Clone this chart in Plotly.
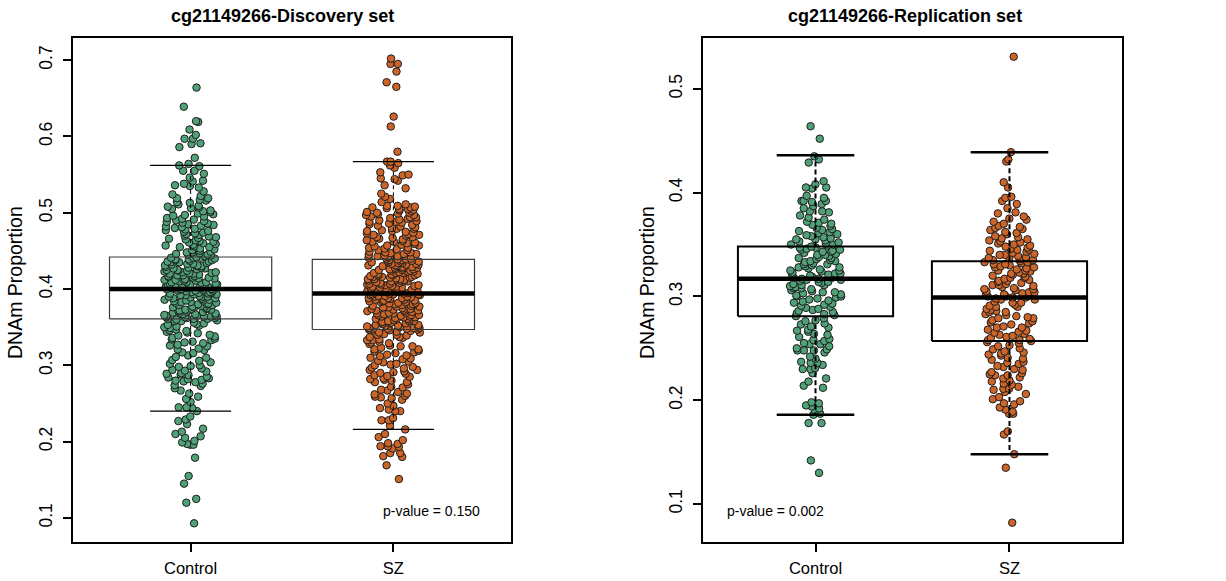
import plotly.graph_objects as go

# ---------------- data ----------------
groups = ["Control", "SZ"]
titles = ["cg21149266-Discovery set", "cg21149266-Replication set"]
pvalues = ["p-value = 0.150", "p-value = 0.002"]
y_label = "DNAm Proportion"

disc_ticks = [0.1, 0.2, 0.3, 0.4, 0.5, 0.6, 0.7]
rep_ticks = [0.1, 0.2, 0.3, 0.4, 0.5]

# box statistics (Control, SZ)
disc_lo = [0.240, 0.216]
disc_q1 = [0.361, 0.347]
disc_med = [0.400, 0.394]
disc_q3 = [0.442, 0.439]
disc_hi = [0.562, 0.567]

rep_lo = [0.186, 0.148]
rep_q1 = [0.281, 0.257]
rep_med = [0.317, 0.299]
rep_q3 = [0.348, 0.334]
rep_hi = [0.436, 0.439]

disc_control = [
    0.664, 0.639, 0.620, 0.619, 0.609, 0.602, 0.597, 0.597, 0.591, 0.590, 0.586, 0.572, 0.564,
    0.562, 0.561, 0.555, 0.555, 0.551, 0.546, 0.542, 0.541, 0.538, 0.536, 0.535, 0.533, 0.528,
    0.524, 0.522, 0.519, 0.517, 0.516, 0.513, 0.511, 0.508, 0.507, 0.505, 0.503, 0.501,
    0.499, 0.497, 0.495, 0.492, 0.491, 0.489, 0.487, 0.486, 0.484, 0.482, 0.480, 0.479, 0.477,
    0.476, 0.474, 0.472, 0.471, 0.469, 0.468, 0.466, 0.464, 0.463, 0.462, 0.460, 0.459, 0.457,
    0.456, 0.455, 0.453, 0.452, 0.450, 0.449, 0.448, 0.447, 0.446, 0.445, 0.444, 0.443,
    0.442, 0.441, 0.441, 0.440, 0.439, 0.438, 0.438, 0.437, 0.436, 0.435, 0.435, 0.434, 0.433,
    0.432, 0.431, 0.431, 0.430, 0.429, 0.428, 0.428, 0.427, 0.426, 0.425, 0.424, 0.424, 0.423,
    0.422, 0.421, 0.421, 0.420, 0.419, 0.418, 0.418, 0.417, 0.416, 0.415, 0.415, 0.414, 0.413,
    0.412, 0.412, 0.411, 0.410, 0.409, 0.409, 0.408, 0.407, 0.407, 0.406, 0.405, 0.405, 0.404,
    0.404, 0.403, 0.403, 0.402, 0.402, 0.401, 0.401, 0.400, 0.400, 0.400,
    0.399, 0.399, 0.398, 0.398, 0.397, 0.396, 0.396, 0.395, 0.394, 0.394, 0.393, 0.392, 0.392,
    0.391, 0.390, 0.389, 0.389, 0.388, 0.387, 0.386, 0.386, 0.385, 0.384, 0.383, 0.383, 0.382,
    0.381, 0.380, 0.380, 0.379, 0.378, 0.377, 0.376, 0.376, 0.375, 0.374, 0.373, 0.373, 0.372,
    0.371, 0.370, 0.370, 0.369, 0.368, 0.367, 0.367, 0.366, 0.365, 0.365, 0.364, 0.364, 0.363,
    0.363, 0.362, 0.362, 0.361, 0.361,
    0.360, 0.359, 0.358, 0.356, 0.355, 0.353, 0.352, 0.350, 0.349, 0.347, 0.345, 0.344, 0.342,
    0.340, 0.338, 0.336, 0.335, 0.333, 0.331, 0.329, 0.327, 0.325, 0.322, 0.320, 0.316, 0.313,
    0.310, 0.307, 0.304, 0.302, 0.300, 0.298, 0.296, 0.294, 0.292, 0.290, 0.289, 0.287, 0.285,
    0.284, 0.282, 0.280, 0.278, 0.276, 0.273, 0.270, 0.267, 0.263, 0.259, 0.256, 0.252, 0.245,
    0.245, 0.244, 0.240,
    0.233, 0.229, 0.227, 0.223, 0.217, 0.213, 0.210, 0.207, 0.205, 0.201, 0.199, 0.197, 0.196,
    0.196, 0.179, 0.155, 0.145, 0.125, 0.120, 0.093,
    0.519, 0.514, 0.509, 0.506, 0.502, 0.498, 0.496, 0.493, 0.490, 0.488, 0.485, 0.483, 0.481,
    0.478, 0.475, 0.473, 0.470, 0.467, 0.465, 0.461, 0.458, 0.455, 0.451, 0.448, 0.445, 0.441,
    0.439, 0.436, 0.433, 0.430, 0.427, 0.425, 0.422, 0.420, 0.417, 0.414, 0.411, 0.409, 0.406,
    0.403, 0.401, 0.398, 0.395, 0.393, 0.390, 0.388, 0.385, 0.382, 0.379, 0.377, 0.374, 0.372,
    0.369, 0.366, 0.364, 0.361, 0.358, 0.354, 0.351, 0.346, 0.343, 0.339, 0.334, 0.330, 0.326,
    0.321, 0.317, 0.311, 0.306, 0.299, 0.293, 0.288, 0.283, 0.281, 0.279, 0.274,
]

disc_sz = [
    0.702, 0.695, 0.695, 0.685, 0.671, 0.665, 0.626, 0.613, 0.580,
    0.567, 0.567, 0.565, 0.562, 0.559, 0.553, 0.550, 0.549, 0.545, 0.544, 0.542, 0.536, 0.532,
    0.525, 0.521, 0.518, 0.514, 0.511, 0.509, 0.508, 0.507, 0.506, 0.505, 0.504, 0.502, 0.501,
    0.500, 0.499, 0.498, 0.497, 0.495, 0.494, 0.493, 0.492, 0.490, 0.489, 0.488, 0.487, 0.485,
    0.484, 0.483, 0.481, 0.480, 0.479, 0.477, 0.476, 0.475, 0.473, 0.472, 0.471, 0.470, 0.468,
    0.467, 0.466, 0.464, 0.463, 0.462, 0.461, 0.459, 0.458, 0.457, 0.456, 0.454, 0.453, 0.452,
    0.451, 0.449, 0.448, 0.447, 0.446, 0.445, 0.444, 0.443, 0.442, 0.441, 0.440, 0.439,
    0.439, 0.438, 0.438, 0.437, 0.436, 0.436, 0.435, 0.435, 0.434, 0.433, 0.433, 0.432, 0.431,
    0.431, 0.430, 0.430, 0.429, 0.428, 0.428, 0.427, 0.426, 0.426, 0.425, 0.425, 0.424, 0.423,
    0.423, 0.422, 0.421, 0.421, 0.420, 0.420, 0.419, 0.418, 0.418, 0.417, 0.416, 0.416, 0.415,
    0.415, 0.414, 0.413, 0.413, 0.412, 0.411, 0.411, 0.410, 0.410, 0.409, 0.408, 0.408, 0.407,
    0.406, 0.406, 0.405, 0.405, 0.404, 0.403, 0.403, 0.402, 0.401, 0.401, 0.400, 0.400, 0.399,
    0.399, 0.398, 0.398, 0.397, 0.397, 0.396, 0.396, 0.395, 0.395, 0.394, 0.394,
    0.393, 0.393, 0.392, 0.392, 0.391, 0.390, 0.390, 0.389, 0.388, 0.388, 0.387, 0.386, 0.386,
    0.385, 0.384, 0.384, 0.383, 0.382, 0.382, 0.381, 0.380, 0.380, 0.379, 0.378, 0.378, 0.377,
    0.376, 0.376, 0.375, 0.374, 0.373, 0.373, 0.372, 0.371, 0.371, 0.370, 0.369, 0.368, 0.368,
    0.367, 0.366, 0.366, 0.365, 0.364, 0.363, 0.363, 0.362, 0.361, 0.361, 0.360, 0.359, 0.358,
    0.358, 0.357, 0.356, 0.356, 0.355, 0.354, 0.353, 0.353, 0.352, 0.351, 0.351, 0.350, 0.349,
    0.349, 0.348, 0.348, 0.347, 0.347,
    0.346, 0.345, 0.344, 0.343, 0.341, 0.340, 0.339, 0.337, 0.336, 0.334, 0.333, 0.331, 0.330,
    0.328, 0.326, 0.325, 0.323, 0.321, 0.319, 0.318, 0.316, 0.314, 0.312, 0.310, 0.308, 0.306,
    0.304, 0.302, 0.300, 0.298, 0.296, 0.294, 0.292, 0.291, 0.289, 0.287, 0.285, 0.283, 0.281,
    0.280, 0.278, 0.275, 0.272, 0.268, 0.267, 0.265, 0.262, 0.260, 0.259, 0.258, 0.255, 0.247,
    0.244, 0.242, 0.240, 0.240, 0.231, 0.228, 0.228, 0.221, 0.216,
    0.210, 0.206, 0.202, 0.198, 0.197, 0.194, 0.194, 0.193, 0.191, 0.185, 0.185, 0.181, 0.180,
    0.169, 0.151,
    0.509, 0.507, 0.505, 0.503, 0.500, 0.497, 0.494, 0.491, 0.488, 0.486, 0.482, 0.479, 0.476,
    0.474, 0.471, 0.468, 0.465, 0.462, 0.460, 0.457, 0.454, 0.451, 0.448, 0.446, 0.443, 0.440,
    0.437, 0.434, 0.432, 0.429, 0.426, 0.424, 0.421, 0.418, 0.416, 0.413, 0.410, 0.407, 0.404,
    0.402, 0.399, 0.396, 0.393, 0.391, 0.388, 0.385, 0.383, 0.380, 0.377, 0.374, 0.372, 0.369,
    0.366, 0.364, 0.361, 0.358, 0.355, 0.352, 0.349, 0.346, 0.343, 0.340, 0.337, 0.333, 0.329,
    0.325, 0.321, 0.317, 0.313, 0.309, 0.305, 0.301, 0.297, 0.294, 0.290, 0.286, 0.282, 0.278,
    0.271, 0.263, 0.257, 0.250,
]

rep_control = [
    0.464, 0.452,
    0.435, 0.432, 0.429, 0.411, 0.408, 0.405, 0.405, 0.404, 0.397, 0.395, 0.392, 0.392, 0.392,
    0.391, 0.389, 0.387, 0.385, 0.382, 0.382, 0.381, 0.378, 0.376, 0.374, 0.372, 0.371, 0.370,
    0.369, 0.368, 0.366, 0.365, 0.364, 0.363, 0.362, 0.361, 0.360, 0.359, 0.358, 0.357, 0.356,
    0.355, 0.355, 0.354, 0.353, 0.352, 0.351, 0.350, 0.350, 0.349, 0.348,
    0.347, 0.347, 0.346, 0.345, 0.345, 0.344, 0.343, 0.343, 0.342, 0.341, 0.340, 0.340, 0.339,
    0.338, 0.337, 0.337, 0.336, 0.335, 0.334, 0.334, 0.333, 0.332, 0.331, 0.331, 0.330, 0.329,
    0.328, 0.328, 0.327, 0.326, 0.325, 0.325, 0.324, 0.323, 0.322, 0.322, 0.321, 0.320, 0.320,
    0.319, 0.319, 0.318, 0.318, 0.317, 0.317,
    0.316, 0.316, 0.315, 0.314, 0.314, 0.313, 0.312, 0.311, 0.311, 0.310, 0.309, 0.308, 0.308,
    0.307, 0.306, 0.305, 0.304, 0.304, 0.303, 0.302, 0.301, 0.300, 0.300, 0.299, 0.298, 0.297,
    0.296, 0.295, 0.294, 0.293, 0.292, 0.291, 0.290, 0.289, 0.288, 0.287, 0.286, 0.285, 0.284,
    0.283, 0.282, 0.281,
    0.279, 0.277, 0.276, 0.274, 0.273, 0.271, 0.270, 0.268, 0.267, 0.266, 0.264, 0.263, 0.261,
    0.259, 0.258, 0.257, 0.255, 0.254, 0.254, 0.252, 0.250, 0.249, 0.248, 0.248, 0.248, 0.246,
    0.242, 0.240, 0.237, 0.236, 0.236, 0.234, 0.231, 0.230, 0.230, 0.226, 0.221, 0.218, 0.214,
    0.212, 0.198, 0.197, 0.195, 0.194, 0.192, 0.190, 0.187, 0.186,
    0.178, 0.178, 0.142, 0.130,
]

rep_sz = [
    0.531,
    0.439, 0.432, 0.430, 0.410, 0.405, 0.396, 0.395, 0.392, 0.389, 0.385, 0.381, 0.380, 0.377,
    0.375, 0.374, 0.372, 0.370, 0.368, 0.367, 0.366, 0.365, 0.364, 0.362, 0.361, 0.360, 0.358,
    0.357, 0.356, 0.355, 0.354, 0.353, 0.352, 0.351, 0.350, 0.349, 0.348, 0.347, 0.346, 0.345,
    0.345, 0.344, 0.343, 0.342, 0.341, 0.340, 0.340, 0.339, 0.338, 0.337, 0.337, 0.336, 0.335,
    0.335, 0.334,
    0.333, 0.333, 0.332, 0.331, 0.331, 0.330, 0.329, 0.328, 0.328, 0.327, 0.326, 0.325, 0.325,
    0.324, 0.323, 0.322, 0.322, 0.321, 0.320, 0.319, 0.318, 0.318, 0.317, 0.316, 0.315, 0.315,
    0.314, 0.313, 0.312, 0.311, 0.311, 0.310, 0.309, 0.308, 0.307, 0.307, 0.306, 0.305, 0.304,
    0.304, 0.303, 0.302, 0.302, 0.301, 0.300, 0.300, 0.299, 0.299,
    0.298, 0.297, 0.297, 0.295, 0.294, 0.294, 0.292, 0.291, 0.290, 0.290, 0.288, 0.287, 0.286,
    0.285, 0.285, 0.283, 0.282, 0.281, 0.280, 0.279, 0.279, 0.277, 0.276, 0.275, 0.274, 0.273,
    0.271, 0.270, 0.270, 0.268, 0.267, 0.266, 0.265, 0.264, 0.263, 0.262, 0.261, 0.260, 0.259,
    0.258, 0.258, 0.257,
    0.256, 0.255, 0.253, 0.252, 0.250, 0.249, 0.247, 0.246, 0.245, 0.244, 0.243, 0.241, 0.240,
    0.239, 0.237, 0.236, 0.235, 0.233, 0.232, 0.230, 0.229, 0.227, 0.226, 0.225, 0.224, 0.224,
    0.222, 0.221, 0.219, 0.218, 0.216, 0.215, 0.213, 0.211, 0.211, 0.210, 0.208, 0.206, 0.203,
    0.201, 0.199, 0.197, 0.196, 0.193, 0.191, 0.189, 0.187, 0.187, 0.170, 0.167, 0.148,
    0.135, 0.082,
]

# ---------------- styling ----------------
FONT = "Liberation Sans, Arial, Helvetica, sans-serif"
GREEN = "#50a078"
ORANGE = "#cd6428"
EDGE = "#1e1e1e"
W, H = 1226, 581

panels = [
    dict(xa="x", ya="y", pts=[disc_control, disc_sz],
         stats=(disc_lo, disc_q1, disc_med, disc_q3, disc_hi),
         box_lw=1.2, cap_lw=1.2, whisk_lw=1, dash="4px,3px", box_col="#3a3a3a",
         xpx=(73, 511), yrange=[0.0685, 0.729], ticks=disc_ticks),
    dict(xa="x2", ya="y2", pts=[rep_control, rep_sz],
         stats=(rep_lo, rep_q1, rep_med, rep_q3, rep_hi),
         box_lw=2, cap_lw=2.5, whisk_lw=2, dash="5px,3px", box_col="#000000",
         xpx=(703, 1122), yrange=[0.0634, 0.549], ticks=rep_ticks),
]

fig = go.Figure()
half_box = 0.4
half_cap = 0.2
positions = [1, 2]

for p in panels:
    lo, q1, med, q3, hi = p["stats"]
    rx, ry, mx, my, wx, wy, cx, cy = [], [], [], [], [], [], [], []
    for i, pos in enumerate(positions):
        rx += [pos - half_box, pos + half_box, pos + half_box, pos - half_box, pos - half_box, None]
        ry += [q1[i], q1[i], q3[i], q3[i], q1[i], None]
        mx += [pos - half_box, pos + half_box, None]
        my += [med[i], med[i], None]
        wx += [pos, pos, None, pos, pos, None]
        wy += [q3[i], hi[i], None, q1[i], lo[i], None]
        cx += [pos - half_cap, pos + half_cap, None, pos - half_cap, pos + half_cap, None]
        cy += [hi[i], hi[i], None, lo[i], lo[i], None]
    common = dict(xaxis=p["xa"], yaxis=p["ya"], mode="lines", hoverinfo="skip", showlegend=False)
    fig.add_trace(go.Scatter(x=wx, y=wy, line=dict(color="black", width=p["whisk_lw"], dash=p["dash"]), **common))
    fig.add_trace(go.Scatter(x=cx, y=cy, line=dict(color="black", width=p["cap_lw"]), **common))
    fig.add_trace(go.Scatter(x=rx, y=ry, line=dict(color=p["box_col"], width=p["box_lw"]), **common))
    fig.add_trace(go.Scatter(x=mx, y=my, line=dict(color="black", width=4.5), **common))
    for i, (vals, col) in enumerate(zip(p["pts"], [GREEN, ORANGE])):
        fig.add_trace(go.Box(
            y=vals, x0=positions[i], width=0.27, xaxis=p["xa"], yaxis=p["ya"],
            boxpoints="all", jitter=1, pointpos=0,
            fillcolor="rgba(0,0,0,0)", line=dict(color="rgba(0,0,0,0)", width=0),
            whiskerwidth=0,
            marker=dict(color=col, size=7.5, opacity=1, line=dict(color=EDGE, width=1)),
            hoveron="points", showlegend=False, name=groups[i],
        ))

ydom = [1 - 542 / H, 1 - 38 / H]
layout = dict(
    width=W, height=H, margin=dict(l=0, r=0, t=0, b=0),
    paper_bgcolor="white", plot_bgcolor="white", showlegend=False,
    font=dict(family=FONT, color="black"),
)
for k, p in enumerate(panels):
    sfx = "" if k == 0 else "2"
    layout["xaxis" + sfx] = dict(
        domain=[p["xpx"][0] / W, p["xpx"][1] / W], range=[0.42, 2.58], anchor="y" + sfx,
        tickmode="array", tickvals=positions, ticktext=groups,
        ticks="outside", ticklen=8, tickwidth=2, tickcolor="black",
        showline=True, linewidth=2, linecolor="black", mirror=True,
        showgrid=False, zeroline=False, tickfont=dict(size=16.5, family=FONT),
        ticklabelstandoff=2, fixedrange=True,
    )
    layout["yaxis" + sfx] = dict(
        domain=ydom, range=p["yrange"], anchor="x" + sfx,
        tickmode="array", tickvals=p["ticks"], ticktext=[f"{t:.1f}" for t in p["ticks"]],
        ticks="outside", ticklen=8, tickwidth=1.5, tickcolor="black", tickangle=-90,
        showline=True, linewidth=2, linecolor="black", mirror=True,
        showgrid=False, zeroline=False, tickfont=dict(size=17.5, family=FONT),
        ticklabelstandoff=4, fixedrange=True,
    )

fig.update_layout(**layout)

# titles, axis titles, p-values
title_x = [282, 905]
ytitle_x = [15, 647]
pval_x = [431, 775.5]
for k in range(2):
    fig.add_annotation(text=f"<b>{titles[k]}</b>", x=title_x[k] / W, y=1 - 16 / H,
                       xref="paper", yref="paper", showarrow=False,
                       xanchor="center", yanchor="middle", font=dict(size=18, family=FONT))
    fig.add_annotation(text=y_label, x=ytitle_x[k] / W, y=1 - 283 / H, textangle=-90,
                       xref="paper", yref="paper", showarrow=False,
                       xanchor="center", yanchor="middle", font=dict(size=19.5, family=FONT))
    fig.add_annotation(text=pvalues[k], x=pval_x[k] / W, y=1 - 511 / H,
                       xref="paper", yref="paper", showarrow=False,
                       xanchor="center", yanchor="middle", font=dict(size=14, family=FONT))

fig.write_html("out.html")
